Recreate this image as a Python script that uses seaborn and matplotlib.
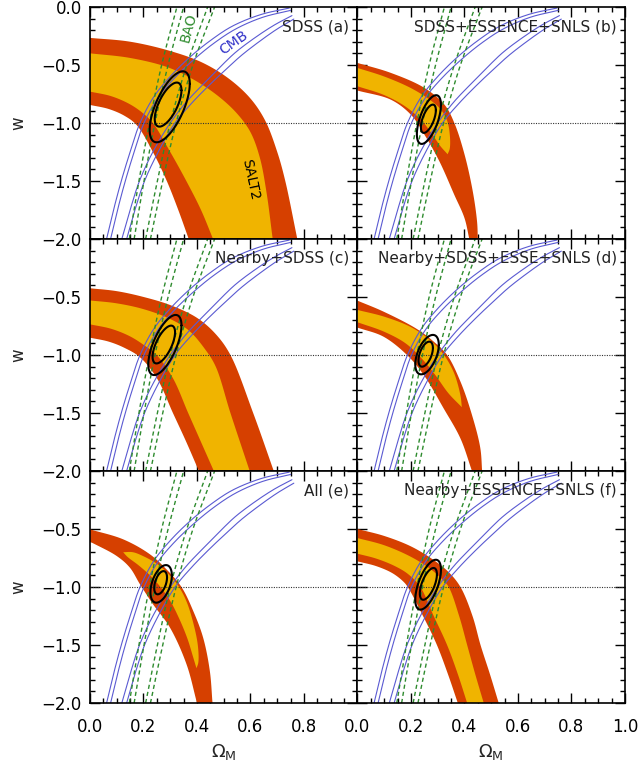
import numpy as np
import pandas as pd
import matplotlib
matplotlib.use("Agg")
import matplotlib.pyplot as plt
from matplotlib.ticker import MultipleLocator
import seaborn as sns

sns.set_style("ticks")
plt.rcParams["font.family"] = ["DejaVu Sans"]

# ---------------------------------------------------------------------------
# Constraint contours in the (Omega_M, w) plane, as (Omega_M, w) vertices.
# ---------------------------------------------------------------------------

# CMB shift-parameter contours (same in every panel)
CMB_1 = [(0.062, -2.0), (0.088, -1.75), (0.117, -1.5), (0.150, -1.25), (0.187, -1.0),
         (0.240, -0.77), (0.300, -0.60), (0.370, -0.44), (0.450, -0.29), (0.533, -0.165),
         (0.640, -0.065), (0.745, -0.01)]
CMB_2 = [(0.077, -2.0), (0.103, -1.75), (0.132, -1.5), (0.165, -1.25), (0.202, -1.0),
         (0.255, -0.78), (0.315, -0.615), (0.385, -0.46), (0.465, -0.31), (0.545, -0.19),
         (0.645, -0.09), (0.750, -0.03)]
CMB_3 = [(0.119, -2.0), (0.150, -1.75), (0.185, -1.5), (0.235, -1.25), (0.300, -1.0),
         (0.360, -0.82), (0.430, -0.65), (0.490, -0.51), (0.545, -0.39), (0.620, -0.26),
         (0.690, -0.155), (0.755, -0.075)]
CMB_4 = [(0.137, -2.0), (0.168, -1.75), (0.204, -1.5), (0.255, -1.25), (0.318, -1.0),
         (0.380, -0.83), (0.450, -0.665), (0.510, -0.535), (0.565, -0.42), (0.635, -0.295),
         (0.700, -0.19), (0.762, -0.105)]

# BAO A-parameter contours (same in every panel)
BAO_1 = [(0.147, -2.0), (0.183, -1.5), (0.222, -1.0), (0.268, -0.5), (0.325, 0.0)]
BAO_2 = [(0.165, -2.0), (0.202, -1.5), (0.243, -1.0), (0.292, -0.5), (0.350, 0.0)]
BAO_3 = [(0.208, -2.0), (0.252, -1.5), (0.300, -1.0), (0.362, -0.5), (0.440, 0.0)]
BAO_4 = [(0.226, -2.0), (0.272, -1.5), (0.322, -1.0), (0.385, -0.5), (0.466, 0.0)]

# SN (SALT2) confidence regions: outer (95%) and inner (68%) boundaries
# (a) SDSS
RED_UP_A = [(0.0, -0.267), (0.15, -0.30), (0.30, -0.38), (0.42, -0.48), (0.52, -0.62),
            (0.60, -0.79), (0.655, -0.98), (0.700, -1.25), (0.730, -1.5), (0.775, -2.0)]
RED_LO_A = [(0.0, -0.845), (0.07, -0.88), (0.13, -0.94), (0.175, -1.02), (0.235, -1.25),
            (0.287, -1.5), (0.33, -1.75), (0.369, -2.0)]
YEL_UP_A = [(0.0, -0.40), (0.15, -0.44), (0.29, -0.52), (0.39, -0.63), (0.48, -0.77),
            (0.55, -0.92), (0.60, -1.08), (0.635, -1.3), (0.66, -1.6), (0.683, -2.0)]
YEL_LO_A = [(0.0, -0.73), (0.08, -0.77), (0.15, -0.84), (0.20, -0.92), (0.235, -1.0),
            (0.30, -1.25), (0.36, -1.5), (0.415, -1.75), (0.46, -2.0)]

# (b) SDSS+ESSENCE+SNLS
RED_UP_B = [(0.0, -0.483), (0.125, -0.569), (0.25, -0.698), (0.325, -0.842), (0.362, -1.0),
            (0.40, -1.27), (0.431, -1.59), (0.447, -1.85), (0.45, -2.0)]
RED_LO_B = [(0.0, -0.721), (0.125, -0.80), (0.20, -0.93), (0.25, -1.10), (0.306, -1.33),
            (0.362, -1.62), (0.40, -1.82), (0.418, -2.0)]
YEL_UP_B = [(0.0, -0.526), (0.10, -0.60), (0.20, -0.70), (0.27, -0.80), (0.31, -0.88),
            (0.335, -0.98), (0.345, -1.10), (0.345, -1.22), (0.337, -1.27)]
YEL_LO_B = [(0.0, -0.684), (0.10, -0.76), (0.18, -0.86), (0.24, -0.98), (0.28, -1.10),
            (0.31, -1.20), (0.337, -1.27)]

# (c) Nearby+SDSS
RED_UP_C = [(0.0, -0.425), (0.10, -0.45), (0.20, -0.50), (0.30, -0.57), (0.40, -0.68),
            (0.47, -0.82), (0.525, -1.0), (0.61, -1.5), (0.687, -2.0)]
RED_LO_C = [(0.0, -0.851), (0.07, -0.885), (0.13, -0.94), (0.187, -1.02), (0.25, -1.2),
            (0.31, -1.5), (0.36, -1.75), (0.407, -2.0)]
YEL_UP_C = [(0.0, -0.53), (0.10, -0.555), (0.20, -0.605), (0.30, -0.69), (0.37, -0.79),
            (0.43, -0.95), (0.47, -1.1), (0.525, -1.5), (0.597, -2.0)]
YEL_LO_C = [(0.0, -0.736), (0.08, -0.775), (0.15, -0.84), (0.205, -0.92), (0.249, -1.0),
            (0.31, -1.2), (0.367, -1.5), (0.415, -1.75), (0.463, -2.0)]

# (d) Nearby+SDSS+ESSENCE+SNLS
RED_UP_D = [(0.0, -0.532), (0.097, -0.626), (0.222, -0.776), (0.285, -0.885), (0.335, -1.0),
            (0.385, -1.23), (0.428, -1.517), (0.459, -1.80), (0.466, -2.0)]
RED_LO_D = [(0.0, -0.764), (0.097, -0.842), (0.185, -1.0), (0.247, -1.17), (0.322, -1.46),
            (0.385, -1.72), (0.428, -2.0)]
YEL_UP_D = [(0.0, -0.612), (0.10, -0.67), (0.20, -0.76), (0.27, -0.87), (0.32, -0.99),
            (0.36, -1.15), (0.385, -1.35), (0.39, -1.45)]
YEL_LO_D = [(0.0, -0.718), (0.10, -0.80), (0.18, -0.90), (0.24, -1.03), (0.29, -1.17),
            (0.34, -1.33), (0.39, -1.45)]

# (e) All
RED_UP_E = [(0.0, -0.503), (0.124, -0.589), (0.224, -0.718), (0.286, -0.848), (0.342, -1.0),
            (0.386, -1.207), (0.423, -1.437), (0.448, -1.724), (0.458, -2.0)]
RED_LO_E = [(0.0, -0.609), (0.10, -0.733), (0.149, -0.833), (0.187, -0.977), (0.236, -1.15),
            (0.299, -1.35), (0.361, -1.667), (0.40, -2.0)]
YEL_UP_E = [(0.124, -0.70), (0.16, -0.70), (0.20, -0.735), (0.25, -0.80), (0.29, -0.88),
            (0.33, -0.99), (0.36, -1.12), (0.385, -1.30), (0.403, -1.50), (0.405, -1.65),
            (0.398, -1.70)]
YEL_LO_E = [(0.124, -0.70), (0.14, -0.74), (0.18, -0.81), (0.22, -0.89), (0.26, -0.99),
            (0.30, -1.12), (0.335, -1.28), (0.365, -1.45), (0.385, -1.60), (0.398, -1.70)]

# (f) Nearby+ESSENCE+SNLS
RED_UP_F = [(0.0, -0.50), (0.10, -0.56), (0.20, -0.65), (0.28, -0.76), (0.34, -0.87),
            (0.385, -1.0), (0.43, -1.25), (0.46, -1.5), (0.495, -1.75), (0.528, -2.0)]
RED_LO_F = [(0.0, -0.779), (0.07, -0.82), (0.13, -0.88), (0.17, -0.95), (0.188, -1.0),
            (0.245, -1.25), (0.297, -1.5), (0.338, -1.75), (0.375, -2.0)]
YEL_UP_F = [(0.0, -0.578), (0.10, -0.64), (0.20, -0.74), (0.27, -0.84), (0.315, -0.93),
            (0.341, -1.0), (0.38, -1.25), (0.41, -1.5), (0.44, -1.75), (0.472, -2.0)]
YEL_LO_F = [(0.0, -0.713), (0.07, -0.755), (0.14, -0.82), (0.19, -0.89), (0.235, -1.0),
            (0.285, -1.25), (0.335, -1.5), (0.375, -1.75), (0.41, -2.0)]

# Combined SN+BAO+CMB contours: centre Omega_M, centre w, half-width in Omega_M,
# half-height in w, correlation -- outer (95%) and inner (68%) per panel
COMB_OUTER = [(0.298, -0.861, 0.075, 0.306, 0.65),
              (0.267, -0.971, 0.045, 0.210, 0.60),
              (0.280, -0.914, 0.062, 0.259, 0.65),
              (0.260, -0.997, 0.044, 0.170, 0.50),
              (0.266, -0.973, 0.040, 0.162, 0.45),
              (0.264, -0.980, 0.048, 0.215, 0.60)]
COMB_INNER = [(0.292, -0.842, 0.050, 0.190, 0.65),
              (0.265, -0.964, 0.028, 0.122, 0.60),
              (0.276, -0.910, 0.042, 0.163, 0.65),
              (0.255, -0.993, 0.027, 0.108, 0.50),
              (0.264, -0.963, 0.024, 0.100, 0.45),
              (0.265, -0.973, 0.032, 0.137, 0.60)]

PANEL_TITLES = ["SDSS (a)", "SDSS+ESSENCE+SNLS (b)", "Nearby+SDSS (c)",
                "Nearby+SDSS+ESSE+SNLS (d)", "All (e)", "Nearby+ESSENCE+SNLS (f)"]
X_TICKS = [0.0, 0.2, 0.4, 0.6, 0.8, 1.0]
X_TICK_LABELS = ["0.0", "0.2", "0.4", "0.6", "0.8", "1.0"]
Y_TICKS = [-2.0, -1.5, -1.0, -0.5, 0.0]
Y_TICK_LABELS = ["\u22122.0", "\u22121.5", "\u22121.0", "\u22120.5", "0.0"]

RED_SETS = [(RED_UP_A, RED_LO_A), (RED_UP_B, RED_LO_B), (RED_UP_C, RED_LO_C),
            (RED_UP_D, RED_LO_D), (RED_UP_E, RED_LO_E), (RED_UP_F, RED_LO_F)]
YEL_SETS = [(YEL_UP_A, YEL_LO_A), (YEL_UP_B, YEL_LO_B), (YEL_UP_C, YEL_LO_C),
            (YEL_UP_D, YEL_LO_D), (YEL_UP_E, YEL_LO_E), (YEL_UP_F, YEL_LO_F)]

RED = "#d64000"
YELLOW = "#f0b400"
CMB_COLOR = "#5a5ad2"
BAO_COLOR = "#2e8b2e"

# screen scale of one unit along each axis, used to keep the spline even
SX, SY = 268.0, 116.0


def smooth(pts, n=16):
    """Centripetal Catmull-Rom spline through the given vertices."""
    P = np.array(pts, dtype=float) * [SX, SY]
    if len(P) < 3:
        return P / [SX, SY]
    P = np.vstack([2 * P[0] - P[1], P, 2 * P[-1] - P[-2]])
    out = []
    for i in range(1, len(P) - 2):
        p0, p1, p2, p3 = P[i - 1], P[i], P[i + 1], P[i + 2]
        t0 = 0.0
        t1 = t0 + np.linalg.norm(p1 - p0) ** 0.5
        t2 = t1 + np.linalg.norm(p2 - p1) ** 0.5
        t3 = t2 + np.linalg.norm(p3 - p2) ** 0.5
        t = np.linspace(t1, t2, n, endpoint=False)[:, None]
        a1 = (t1 - t) / (t1 - t0) * p0 + (t - t0) / (t1 - t0) * p1
        a2 = (t2 - t) / (t2 - t1) * p1 + (t - t1) / (t2 - t1) * p2
        a3 = (t3 - t) / (t3 - t2) * p2 + (t - t2) / (t3 - t2) * p3
        b1 = (t2 - t) / (t2 - t0) * a1 + (t - t0) / (t2 - t0) * a2
        b2 = (t3 - t) / (t3 - t1) * a2 + (t - t1) / (t3 - t1) * a3
        out.append((t2 - t) / (t2 - t1) * b1 + (t - t1) / (t2 - t1) * b2)
    out.append(P[-2][None, :])
    return np.vstack(out) / [SX, SY]


def curve(ax, pts, **kw):
    s = smooth(pts)
    df = pd.DataFrame({"om": s[:, 0], "w": s[:, 1]})
    sns.lineplot(data=df, x="om", y="w", sort=False, estimator=None, ax=ax, **kw)


def region(ax, upper, lower, color):
    up = smooth(upper)
    lo = smooth(lower)[::-1]
    pts = np.vstack([up, lo])
    ax.fill(pts[:, 0], pts[:, 1], color=color, lw=0, zorder=1)


def ellipse(ax, params, lw):
    cx, cy, sx, sy, rho = params
    t = np.linspace(0, 2 * np.pi, 240)
    df = pd.DataFrame({"om": cx + sx * np.cos(t),
                       "w": cy + sy * (rho * np.cos(t) + np.sqrt(1 - rho ** 2) * np.sin(t))})
    sns.lineplot(data=df, x="om", y="w", sort=False, estimator=None, ax=ax,
                 color="black", lw=lw, zorder=6)


fig, axes = plt.subplots(3, 2, figsize=(6.41, 7.67), dpi=100)
fig.subplots_adjust(left=0.1404, right=0.975, top=0.991, bottom=0.0834,
                    wspace=0, hspace=0)

for i, ax in enumerate(axes.flat):
    row, col = divmod(i, 2)
    region(ax, *RED_SETS[i], RED)
    region(ax, *YEL_SETS[i], YELLOW)

    for line in (CMB_1, CMB_2, CMB_3, CMB_4):
        curve(ax, line, color=CMB_COLOR, lw=0.8, zorder=3)
    for line in (BAO_1, BAO_2, BAO_3, BAO_4):
        curve(ax, line, color=BAO_COLOR, lw=1.0, zorder=3, linestyle=(0, (3.0, 2.2)))

    ellipse(ax, COMB_OUTER[i], 1.5)
    ellipse(ax, COMB_INNER[i], 1.5)

    ax.axhline(-1.0, color="#333333", lw=0.8, linestyle=(0, (1, 1.2)), zorder=2)

    ax.text(0.97, 0.914, PANEL_TITLES[i], transform=ax.transAxes, ha="right",
            va="center", fontsize=11, color="#222222", zorder=8)

    ax.set_xlim(0, 1)
    ax.set_ylim(-2, 0)
    ax.xaxis.set_minor_locator(MultipleLocator(0.05))
    ax.yaxis.set_minor_locator(MultipleLocator(0.1))
    ax.set_xticks(X_TICKS)
    ax.set_yticks(Y_TICKS)
    ax.tick_params(which="both", direction="in", top=True, right=True,
                   width=1.0, colors="black", labelsize=12)
    ax.tick_params(which="major", length=7)
    ax.tick_params(which="minor", length=3.5)
    ax.tick_params(axis="x", pad=11)
    ax.tick_params(axis="y", pad=6)
    for sp in ax.spines.values():
        sp.set_linewidth(1.2)
        sp.set_color("black")
        sp.set_zorder(10)

    if row == 2:
        labels = list(X_TICK_LABELS)
        if col == 0:
            labels[-1] = ""
        ax.set_xticklabels(labels)
        ax.set_xlabel(r"$\Omega_{\rm M}$", fontsize=13, labelpad=4)
    else:
        ax.set_xticklabels([])
        ax.set_xlabel("")
    if col == 0:
        labels = list(Y_TICK_LABELS)
        if row > 0:
            labels[-1] = ""
        ax.set_yticklabels(labels)
        ax.set_ylabel("w", fontsize=12, labelpad=10)
    else:
        ax.set_yticklabels([])
        ax.set_ylabel("")

# annotations on panel (a)
ax0 = axes[0, 0]
ax0.text(0.369, -0.18, "BAO", color=BAO_COLOR, fontsize=10, rotation=75,
         ha="center", va="center", zorder=7)
ax0.text(0.537, -0.31, "CMB", color="#3030c8", fontsize=10, rotation=35,
         ha="center", va="center", zorder=7)
ax0.text(0.60, -1.49, "SALT2", color="black", fontsize=10, rotation=-78,
         ha="center", va="center", zorder=7)

fig.savefig("out.png", dpi=100)
